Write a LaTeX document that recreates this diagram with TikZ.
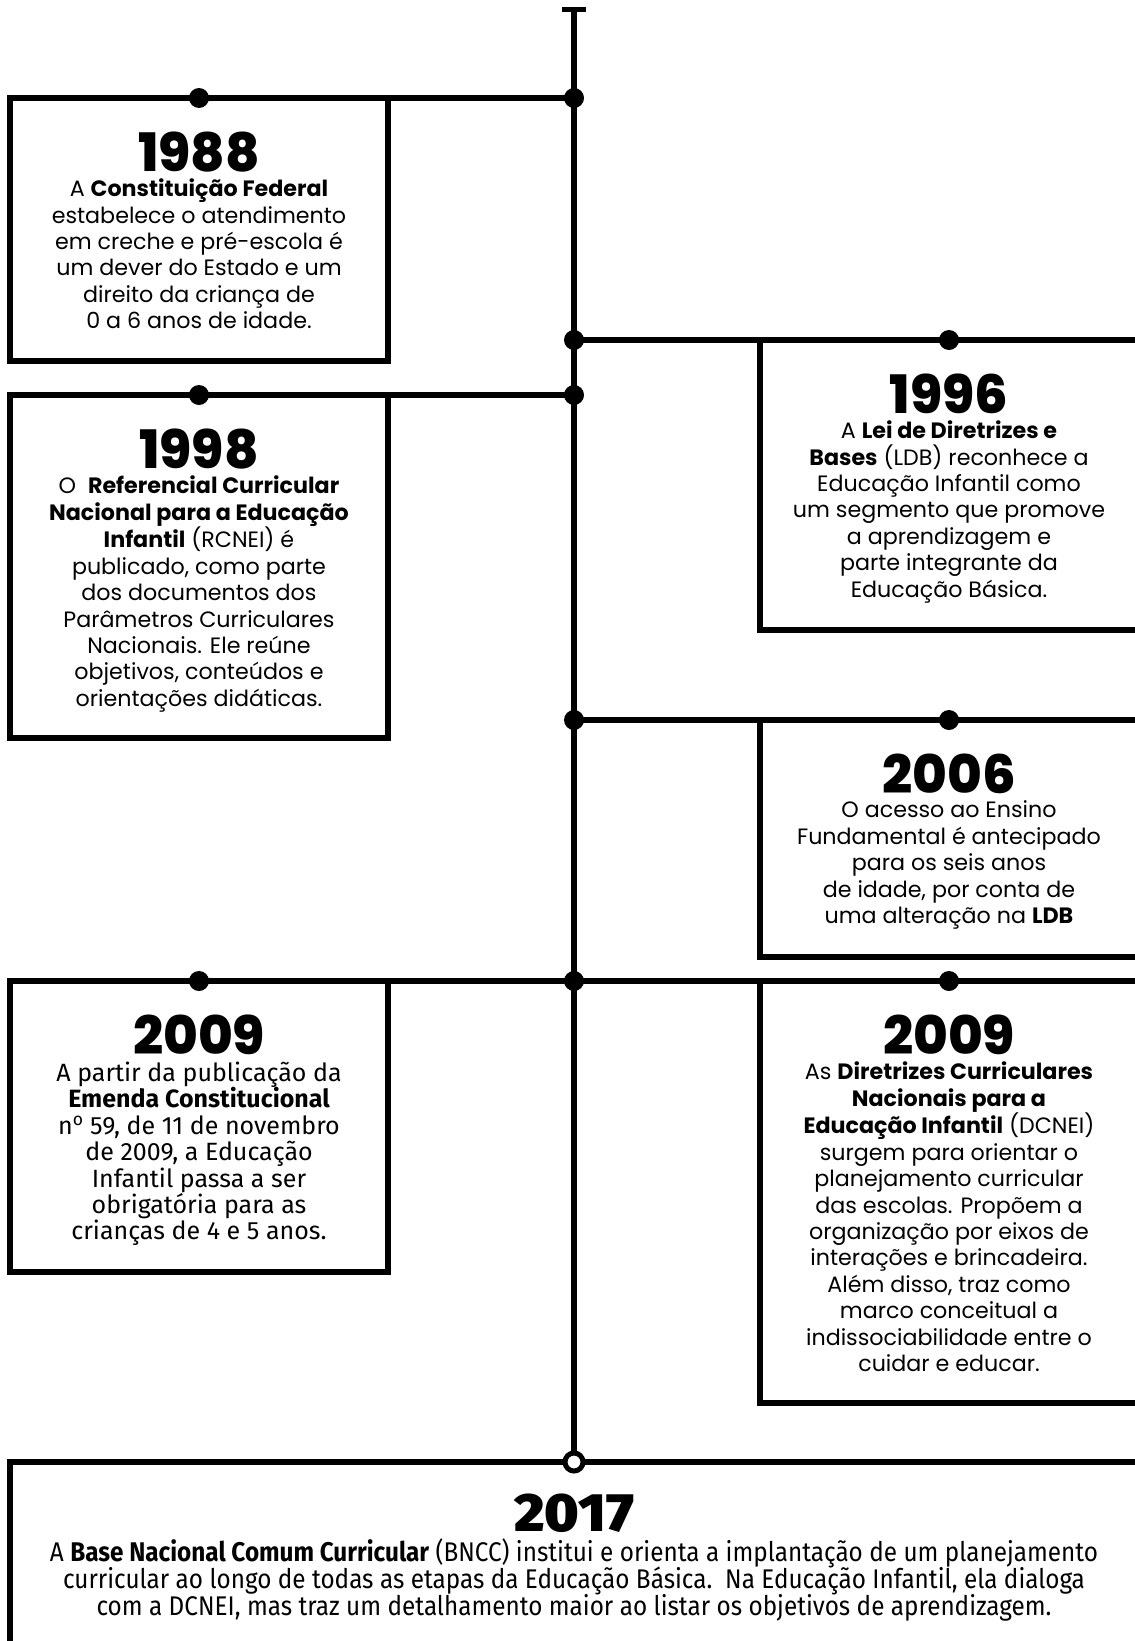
\documentclass[tikz,border=0pt]{standalone}
\usepackage{fontspec}
\setmainfont{Poppins}
\IfFontExistsTF{Poppins ExtraBold}{\newfontfamily\yearfont{Poppins ExtraBold}}{%
  \IfFontExistsTF{Poppins Black}{\newfontfamily\yearfont{Poppins Black}}{\newcommand\yearfont{\bfseries}}}
\newfontfamily\condfont{Fira Sans}[FakeStretch=0.9]
\newfontfamily\plainfont{Fira Sans}
\IfFontExistsTF{Fira Sans Black}{\newfontfamily\condyear{Fira Sans Black}[FakeStretch=1.07]}{\newcommand\condyear{\plainfont\bfseries}}
\newcommand\tightlines{\setlength\lineskiplimit{-100pt}}

\begin{document}
\begin{tikzpicture}[x=1pt,y=-1pt,line width=6pt,
    dot/.style={circle,fill,inner sep=0pt,outer sep=0pt,minimum size=20pt},
    hole/.style={circle,draw,fill=white,line width=5pt,inner sep=0pt,outer sep=0pt,minimum size=18pt},
    card/.style={draw,rectangle,inner sep=0pt,outer sep=0pt,anchor=north west,minimum width=378pt},
    yr/.style={anchor=base,inner sep=0pt,font=\yearfont\fontsize{53}{53}\selectfont},
    txt/.style={anchor=north,inner sep=0pt,align=center,font=\fontsize{22.2}{26.4}\selectfont}]
    \useasboundingbox (0,0) rectangle (1135,1641);

    \coordinate (top) at (574,9);
    \draw[line width=5pt] ([xshift=-12pt]top) -- ([xshift=12pt]top);
    \node[hole,draw=none,fill=none] (m17) at (574,1462) {};
    \draw (top) -- (m17.center);

    \node[card,minimum height=263pt] (b88) at (10,98) {};
    \node[card,minimum height=343pt] (b98) at (10,395) {};
    \node[card,minimum height=290pt] (b96) at (760,340) {};
    \node[card,minimum height=237pt] (b06) at (760,720) {};
    \node[card,minimum height=291pt] (b09a) at (10,981) {};
    \node[card,minimum height=422pt] (b09b) at (760,981) {};
    \node[card,minimum width=1140pt,minimum height=300pt] (b17) at (10,1462) {};

    \foreach \y in {98,340,395,720,981} {
      \node[dot] (m\y) at (574,\y) {};
    }
    \draw (b88.north east) -- (m98.center);
    \draw (m340.center) -- (b96.north west);
    \draw (b98.north east) -- (m395.center);
    \draw (m720.center) -- (b06.north west);
    \draw (b09a.north east) -- (m981.center) -- (b09b.north west);
    \foreach \b in {b88,b98,b96,b06,b09a,b09b} {
      \node[dot] at (\b.north) {};
    }
    \node[hole] at (m17) {};

    \node[yr] (y88) at (199,171) {1988};
    \node[txt] (t88) at (199,176) {A \textbf{Constituição Federal}\\
      estabelece o atendimento\\
      em creche e pré-escola é\\
      um dever do Estado e um\\
      direito da criança de\\
      0 a 6 anos de idade.};

    \node[yr] (y98) at (199,468) {1998};
    \node[txt] (t98) at (199,473) {O \ \textbf{Referencial Curricular}\\
      \textbf{Nacional para a Educação}\\
      \textbf{Infantil} (RCNEI) é\\
      publicado, como parte\\
      dos documentos dos\\
      Parâmetros Curriculares\\
      Nacionais. Ele reúne\\
      objetivos, conteúdos e\\
      orientações didáticas.};

    \node[yr] (y96) at (949,413) {1996};
    \node[txt] (t96) at (949,418) {A \textbf{Lei de Diretrizes e}\\
      \textbf{Bases} (LDB) reconhece a\\
      Educação Infantil como\\
      um segmento que promove\\
      a aprendizagem e\\
      parte integrante da\\
      Educação Básica.};

    \node[yr] (y06) at (949,793) {2006};
    \node[txt] (t06) at (949,798) {O acesso ao Ensino\\
      Fundamental é antecipado\\
      para os seis anos\\
      de idade, por conta de\\
      uma alteração na \textbf{LDB}};

    \node[yr] (y09a) at (199,1054) {2009};
    \node[txt,font=\plainfont\fontsize{25}{26.4}\selectfont\tightlines] (t09a) at (199,1059) {A partir da publicação da\\
      \textbf{Emenda Constitucional}\\
      n\textsuperscript{o} 59, de 11 de novembro\\
      de 2009, a Educação\\
      Infantil passa a ser\\
      obrigatória para as\\
      crianças de 4 e 5 anos.};

    \node[yr] (y09b) at (949,1054) {2009};
    \node[txt] (t09b) at (949,1059) {As \textbf{Diretrizes Curriculares}\\
      \textbf{Nacionais para a}\\
      \textbf{Educação Infantil} (DCNEI)\\
      surgem para orientar o\\
      planejamento curricular\\
      das escolas. Propõem a\\
      organização por eixos de\\
      interações e brincadeira.\\
      Além disso, traz como\\
      marco conceitual a\\
      indissociabilidade entre o\\
      cuidar e educar.};

    \node[yr,font=\condyear\fontsize{54}{54}\selectfont] (y17) at (574,1531) {2017};
    \node[txt,font=\condfont\fontsize{27}{26.6}\selectfont\tightlines] (t17) at (574,1536) {A \textbf{Base Nacional Comum Curricular} (BNCC) institui e orienta a implantação de um planejamento\\
      curricular ao longo de todas as etapas da Educação Básica.\ \ Na Educação Infantil, ela dialoga\\
      com a DCNEI, mas traz um detalhamento maior ao listar os objetivos de aprendizagem.};
\end{tikzpicture}
\end{document}
